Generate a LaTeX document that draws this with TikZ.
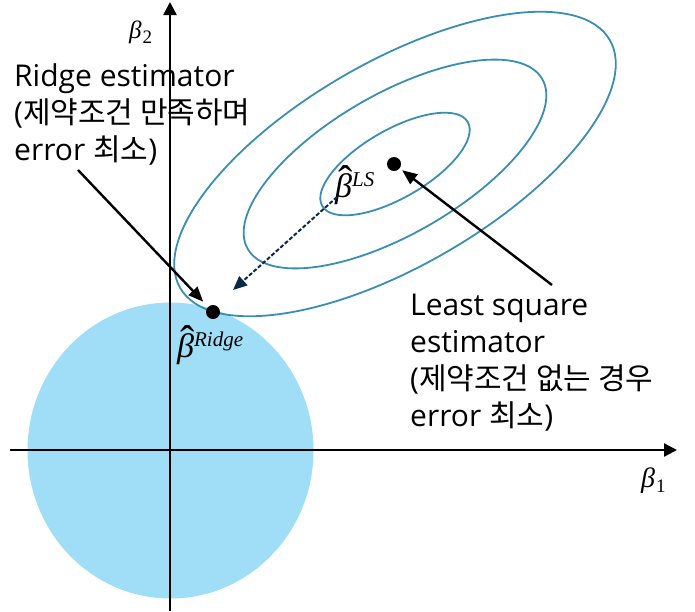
\documentclass[tikz,border=0pt]{standalone}
\usepackage{fontspec}
\setmainfont{Open Sans}
\newfontfamily\kr{Noto Sans CJK KR}
\newfontfamily\grk{Liberation Serif}
\usetikzlibrary{arrows.meta}
\definecolor{circblue}{RGB}{160,222,247}
\definecolor{ellblue}{RGB}{58,142,178}
\definecolor{navy}{RGB}{12,40,72}
\newcommand{\hatb}{\rlap{\kern0.1em\raisebox{1.3pt}{\fontsize{43}{43}\selectfont\upshape ˆ}}β}
\newcommand{\supx}[1]{\raisebox{11pt}{\fontsize{21}{21}\selectfont #1}}
\newcommand{\subx}[1]{\kern1pt\raisebox{-5pt}{\fontsize{19}{19}\selectfont\upshape #1}}
\tikzset{
  axis/.style={line width=2.4pt, -{Triangle[length=13pt,width=13pt]}},
  ell/.style={draw=ellblue, line width=1.8pt},
  ptr/.style={line width=2.4pt, -{Triangle[length=15pt,width=12pt]}},
  dptr/.style={navy, line width=2pt, dash pattern=on 4pt off 2pt, -{Triangle[length=14pt,width=12pt]}},
  dotnode/.style={circle, fill=black, inner sep=0pt, minimum size=14pt},
  lbl/.style={align=left, inner sep=0pt, anchor=north west, font=\fontsize{30}{37}\selectfont},
  albl/.style={inner sep=0pt, anchor=base west, font=\grk\itshape\fontsize{25}{28}\selectfont},
  hlbl/.style={inner sep=0pt, anchor=base west, font=\grk\itshape\fontsize{34}{36}\selectfont}
}
\begin{document}
\begin{tikzpicture}[x=1pt,y=-1pt]
\path[use as bounding box] (0,0) rectangle (695,611);
% constraint region
\fill[circblue] (170.5,450.5) ellipse [x radius=143pt, y radius=148pt];
% axes
\coordinate (xs) at (10,450);
\coordinate (xe) at (677,450);
\coordinate (ys) at (170,611);
\coordinate (ye) at (170,2);
\draw[axis] (xs) -- (xe);
\draw[axis] (ys) -- (ye);
\node[albl] (b2) at (129,38) {β\subx{2}};
\node[albl, font=\grk\itshape\fontsize{28}{30}\selectfont] (b1) at (641,487) {β\subx{1}};
% error contours
\begin{scope}[shift={(395,164)}, rotate=30]
  \draw[ell] (0,0) ellipse [x radius=84pt, y radius=34pt];
  \draw[ell] (0,0) ellipse [x radius=170pt, y radius=70pt];
  \draw[ell] (0,0) ellipse [x radius=248pt, y radius=102pt];
\end{scope}
% points
\node[dotnode] (ls) at (394,164) {};
\node[dotnode] (rd) at (213,312) {};
\node[hlbl] (lslbl) at (335,197) {\hatb\supx{LS}};
\node[hlbl] (rdlbl) at (177,357) {\hatb\supx{Ridge}};
% texts
\node[lbl] (rtxt) at (14,64) {Ridge estimator\\({\kr 제약조건 만족하며}\\error {\kr 최소})};
\node[lbl] (ltxt) at (410,294) {Least square\\estimator\\({\kr 제약조건 없는 경우}\\error {\kr 최소})};
% pointers
\coordinate (ra) at (78,170);
\coordinate (la) at (552,285);
\draw[ptr, shorten >=7pt] (ra) -- (rd);
\draw[ptr, shorten >=3pt] (la) -- (ls);
\coordinate (ds) at (337,197);
\coordinate (de) at (233,290);
\draw[dptr] (ds) -- (de);
\end{tikzpicture}
\end{document}
